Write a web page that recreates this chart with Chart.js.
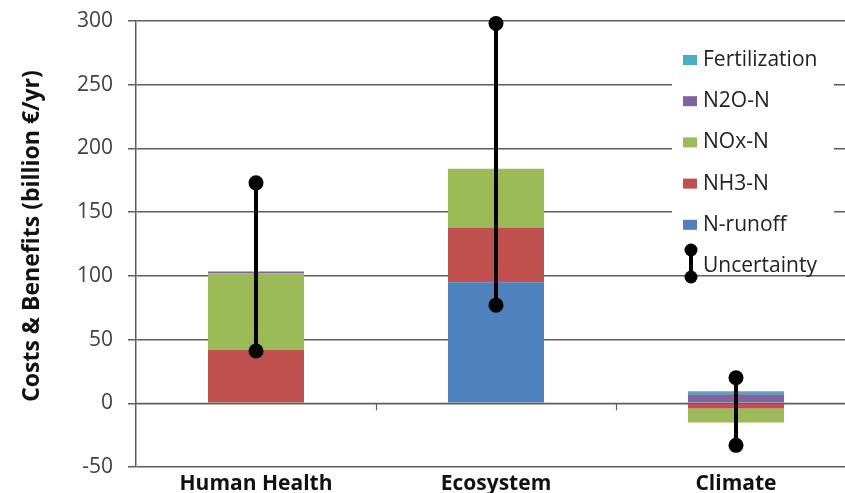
<!DOCTYPE html>
<html>
<head>
<meta charset="utf-8">
<script src="https://cdn.jsdelivr.net/npm/chart.js@4.4.0/dist/chart.umd.min.js"></script>
<style>
  html, body { margin: 0; padding: 0; background: #fff; overflow: hidden; }
  #wrap { width: 870px; height: 493px; }
</style>
</head>
<body>
<div id="wrap"><canvas id="chart" width="870" height="493"></canvas></div>
<script>
// Nitrogen costs & benefits per impact category (billion €/yr)
const categories = ['Human Health', 'Ecosystem', 'Climate'];
const nRunoff = [0, 95, 0];
const nh3 = [42, 43, -4];
const nox = [60, 46, -11];
const n2o = [1.5, 0, 7];
const fertilization = [0, 0, 2.5];
const uncLow = [41, 77, -33];
const uncHigh = [173, 298, 20];
const yTicks = [-50, 0, 50, 100, 150, 200, 250, 300];
const yTitle = 'Costs & Benefits (billion €/yr)';

const FONT = "'Open Sans', sans-serif";
const GRID = '#5e5e5e';

// uncertainty whiskers, zero axis, axis title and the in-plot legend
const overlayPlugin = {
    id: 'overlay',
    afterDatasetsDraw(chart) {
        const { ctx, chartArea, scales: { x, y } } = chart;
        const y0 = y.getPixelForValue(0);
        const half = (x.getPixelForValue(1) - x.getPixelForValue(0)) / 2;
        ctx.save();
        ctx.strokeStyle = GRID;
        ctx.lineWidth = 1.2;
        ctx.beginPath();
        ctx.moveTo(chartArea.left, y0);
        ctx.lineTo(chartArea.right, y0);
        for (let i = 1; i < categories.length; i++) {
            const px = Math.round(x.getPixelForValue(i) - half) + 0.5;
            ctx.moveTo(px, y0);
            ctx.lineTo(px, y0 + 7);
        }
        ctx.stroke();

        ctx.strokeStyle = '#000';
        ctx.fillStyle = '#000';
        categories.forEach((c, i) => {
            const px = x.getPixelForValue(i);
            const top = y.getPixelForValue(uncHigh[i]);
            const bot = y.getPixelForValue(uncLow[i]);
            ctx.lineWidth = 4;
            ctx.beginPath();
            ctx.moveTo(px, top);
            ctx.lineTo(px, bot);
            ctx.stroke();
            [top, bot].forEach(py => {
                ctx.beginPath();
                ctx.arc(px, py, 7.5, 0, Math.PI * 2);
                ctx.fill();
            });
        });
        ctx.restore();
    },
    afterDraw(chart) {
        const ctx = chart.ctx;
        ctx.save();
        // rotated y-axis title
        ctx.translate(32, 236);
        ctx.rotate(-Math.PI / 2);
        ctx.font = 'bold 23px ' + FONT;
        ctx.fillStyle = '#111';
        ctx.textAlign = 'center';
        ctx.textBaseline = 'middle';
        ctx.fillText(yTitle, 0, 0);
        ctx.restore();

        const items = chart.data.datasets.slice().reverse();
        ctx.save();
        ctx.fillStyle = '#fff';
        ctx.fillRect(672, 40, 162, 232);
        ctx.font = '21px ' + FONT;
        ctx.textBaseline = 'middle';
        let cy = 60;
        items.forEach(ds => {
            ctx.fillStyle = ds.backgroundColor;
            ctx.fillRect(683, cy - 5, 14, 10);
            ctx.fillStyle = '#222';
            ctx.fillText(ds.label, 703, cy);
            cy += 41.2;
        });
        // uncertainty key
        ctx.strokeStyle = '#000';
        ctx.fillStyle = '#000';
        ctx.lineWidth = 4;
        ctx.beginPath();
        ctx.moveTo(691, 250);
        ctx.lineTo(691, 277);
        ctx.stroke();
        [250, 277].forEach(py => {
            ctx.beginPath();
            ctx.arc(691, py, 6.5, 0, Math.PI * 2);
            ctx.fill();
        });
        ctx.fillStyle = '#222';
        ctx.fillText('Uncertainty', 703, 266);
        ctx.restore();
    }
};

const ctx = document.getElementById('chart').getContext('2d');
new Chart(ctx, {
    type: 'bar',
    data: {
        labels: categories,
        datasets: [
            { label: 'N-runoff', data: nRunoff, backgroundColor: '#4f81bd' },
            { label: 'NH3-N', data: nh3, backgroundColor: '#c0504d' },
            { label: 'NOx-N', data: nox, backgroundColor: '#9bbb59' },
            { label: 'N2O-N', data: n2o, backgroundColor: '#8064a2' },
            { label: 'Fertilization', data: fertilization, backgroundColor: '#4bacc6' }
        ]
    },
    options: {
        responsive: false,
        animation: false,
        devicePixelRatio: 1,
        layout: { padding: { top: 21, right: 14, bottom: 0, left: 0 } },
        datasets: {
            bar: { barPercentage: 0.4, categoryPercentage: 1, borderWidth: 0 }
        },
        scales: {
            x: {
                stacked: true,
                grid: { display: false, drawTicks: false },
                border: { display: false },
                ticks: {
                    color: '#111',
                    padding: 4,
                    font: { family: FONT, size: 21, weight: 'bold' }
                },
                afterFit(scale) {
                    scale.height = 26;
                    scale.paddingLeft = 0;
                    scale.paddingRight = 0;
                }
            },
            y: {
                stacked: true,
                min: -50,
                max: 300,
                afterBuildTicks(scale) {
                    scale.ticks = yTicks.map(v => ({ value: v }));
                },
                grid: { color: GRID, lineWidth: 1.5, tickLength: 8 },
                border: { color: GRID, width: 1.5 },
                ticks: {
                    color: '#404040',
                    padding: 15,
                    font: { family: FONT, size: 21 }
                },
                afterFit(scale) {
                    scale.width = 136;
                    scale.paddingTop = 0;
                    scale.paddingBottom = 0;
                }
            }
        },
        plugins: {
            legend: { display: false },
            tooltip: { enabled: false }
        }
    },
    plugins: [overlayPlugin]
});
</script>
</body>
</html>
